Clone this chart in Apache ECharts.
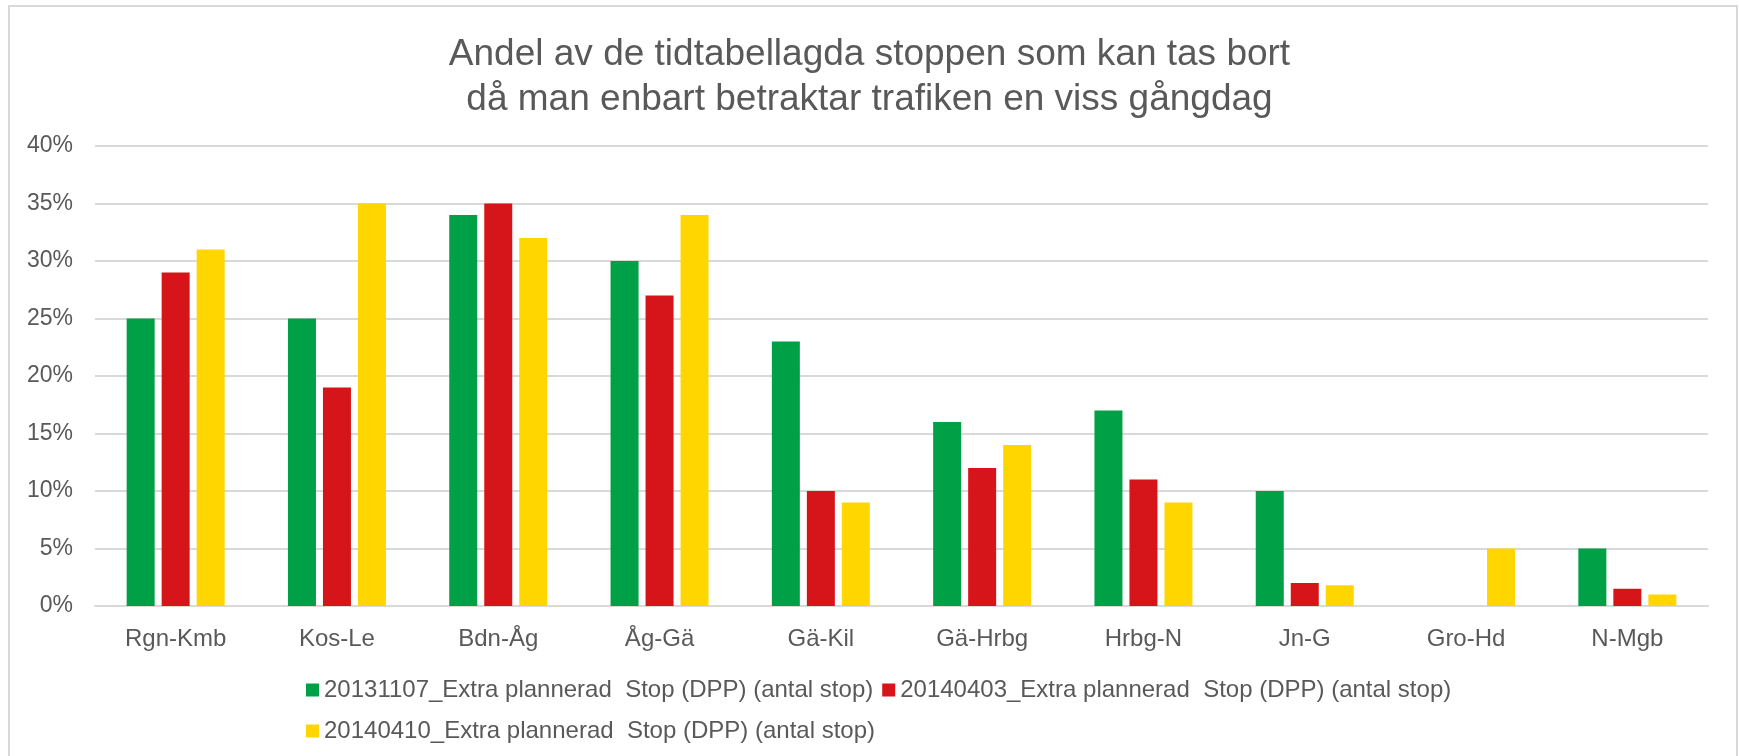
<!DOCTYPE html>
<html>
<head>
<meta charset="utf-8">
<script src="https://cdn.jsdelivr.net/npm/echarts@6/dist/echarts.min.js"></script>
<style>
html,body{margin:0;padding:0;background:#fff;}
#chart{width:1739px;height:756px;}
</style>
</head>
<body>
<div id="chart"></div>
<script>
var titleLines = ['Andel av de tidtabellagda stoppen som kan tas bort', 'då man enbart betraktar trafiken en viss gångdag'];
var categories = ['Rgn-Kmb', 'Kos-Le', 'Bdn-Åg', 'Åg-Gä', 'Gä-Kil', 'Gä-Hrbg', 'Hrbg-N', 'Jn-G', 'Gro-Hd', 'N-Mgb'];
var seriesNames = [
  '20131107_Extra plannerad  Stop (DPP) (antal stop)',
  '20140403_Extra plannerad  Stop (DPP) (antal stop)',
  '20140410_Extra plannerad  Stop (DPP) (antal stop)'
];
var s20131107 = [25, 25, 34, 30, 23, 16, 17, 10, null, 5];
var s20140403 = [29, 19, 35, 27, 10, 12, 11, 2, null, 1.5];
var s20140410 = [31, 35, 32, 34, 9, 14, 9, 1.8, 5, 1];
var yTicks = [0, 5, 10, 15, 20, 25, 30, 35, 40];
var colors = ['#00A046', '#D6151B', '#FFD600'];

var FONT = '"Liberation Sans", Arial, sans-serif';
var TXT = '#595959';
var GRID = '#D9D9D9';

var chart = echarts.init(document.getElementById('chart'), null, {renderer: 'canvas'});
var seriesData = [s20131107, s20140403, s20140410];
chart.setOption({
  animation: false,
  backgroundColor: '#fff',
  color: colors,
  title: titleLines.map(function (t, i) {
    return {
      text: t,
      left: 'center',
      top: 33 + i * 44.5,
      padding: 0,
      textStyle: {fontFamily: FONT, fontSize: 37, fontWeight: 'normal', color: TXT, lineHeight: 44}
    };
  }),
  graphic: [{
    type: 'rect',
    shape: {x: 9, y: 6, width: 1728, height: 800},
    style: {fill: 'none', stroke: GRID, lineWidth: 2},
    silent: true
  }],
  legend: {
    left: 306,
    top: 674,
    width: 1250,
    padding: 0,
    itemWidth: 13,
    itemHeight: 13,
    itemGap: 9,
    icon: 'rect',
    textStyle: {fontFamily: FONT, fontSize: 24, color: TXT, lineHeight: 32},
    data: seriesNames
  },
  grid: {left: 95, right: 31, top: 146, bottom: 150, containLabel: false},
  xAxis: {
    type: 'category',
    data: categories,
    axisLine: {show: true, lineStyle: {color: GRID, width: 2}},
    axisTick: {show: false},
    axisLabel: {fontFamily: FONT, fontSize: 24, color: TXT, margin: 21}
  },
  yAxis: {
    type: 'value',
    min: yTicks[0],
    max: yTicks[yTicks.length - 1],
    interval: yTicks[1] - yTicks[0],
    axisLine: {show: false},
    axisTick: {show: false},
    splitLine: {lineStyle: {color: GRID, width: 2}},
    axisLabel: {fontFamily: FONT, fontSize: 23, color: TXT, margin: 22, formatter: '{value}%'}
  },
  series: seriesNames.map(function (n, i) {
    return {
      name: n,
      type: 'bar',
      data: seriesData[i],
      barWidth: 28,
      barGap: '25%',
      itemStyle: {color: colors[i]}
    };
  })
});
</script>
</body>
</html>
